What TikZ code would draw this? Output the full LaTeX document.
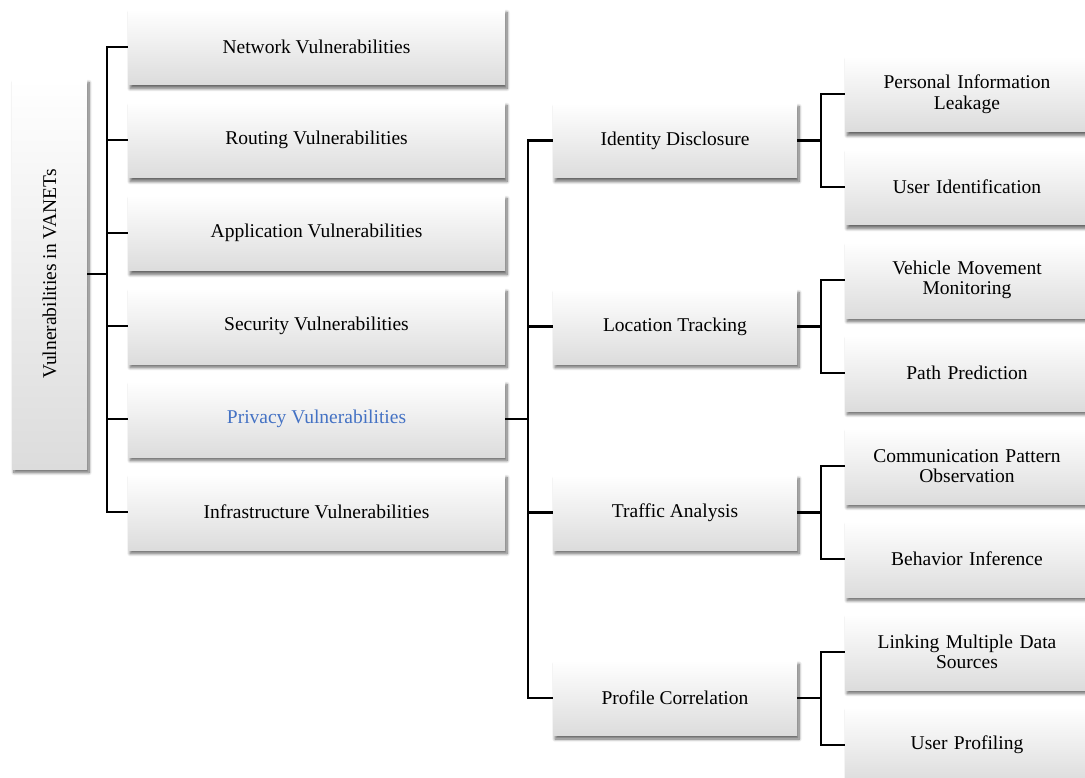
\documentclass[tikz,border=0pt]{standalone}
\usepackage{fontspec}
\setmainfont{Liberation Serif}
\usetikzlibrary{shadows.blur,calc}

\definecolor{boxgray}{RGB}{220,220,220}
\definecolor{privblue}{RGB}{68,114,196}

\tikzset{
  card/.style={
    rectangle, draw=none, align=center, inner sep=2pt,
    top color=white, middle color=white, bottom color=boxgray,
    blur shadow={shadow xshift=2pt, shadow yshift=-3.5pt, shadow blur radius=3pt,
                 shadow blur steps=8, shadow opacity=60},
    font=\fontsize{19.5}{20.5}\selectfont
  },
  lvl1/.style={card, minimum width=377pt, minimum height=76pt},
  lvl2/.style={card, minimum width=244pt, minimum height=75pt},
  lvl3/.style={card, minimum width=244pt, minimum height=76pt, text width=236pt},
  link/.style={line width=2.1pt, black}
}

\begin{document}
\begin{tikzpicture}[x=1pt, y=-1pt]
\useasboundingbox (0,0) rectangle (1085,778);

% root
\node[card, minimum width=75pt, minimum height=390pt] (root) at (49.5,274)
  {\rotatebox{90}{Vulnerabilities in VANETs}};

% first level
\node[lvl1] (net)   at (316.5,47)  {Network Vulnerabilities};
\node[lvl1] (rout)  at (316.5,140) {Routing Vulnerabilities};
\node[lvl1] (app)   at (316.5,233) {Application Vulnerabilities};
\node[lvl1] (sec)   at (316.5,326) {Security Vulnerabilities};
\node[lvl1, text=privblue] (priv) at (316.5,419) {Privacy Vulnerabilities};
\node[lvl1] (infra) at (316.5,512) {Infrastructure Vulnerabilities};

% second level
\node[lvl2] (ident) at (675,140.5) {Identity Disclosure};
\node[lvl2] (loc)   at (675,326.5) {Location Tracking};
\node[lvl2] (traf)  at (675,512.5) {Traffic Analysis};
\node[lvl2] (prof)  at (675,698)   {Profile Correlation};

% third level
\node[lvl3] (pil)  at (967,94)  {Personal Information\\Leakage};
\node[lvl3] (uid)  at (967,187) {User Identification};
\node[lvl3] (vmm)  at (967,280) {Vehicle Movement\\Monitoring};
\node[lvl3] (pp)   at (967,373) {Path Prediction};
\node[lvl3] (cpo)  at (967,466) {Communication Pattern\\Observation};
\node[lvl3] (bi)   at (967,559) {Behavior Inference};
\node[lvl3] (lmds) at (967,652) {Linking Multiple Data\\Sources};
\node[lvl3] (up)   at (967,745) {User Profiling};

% trunk positions
\coordinate (t0) at (107,0);
\coordinate (t1) at (528,0);
\coordinate (t2) at (821,0);

% root to first level
\foreach \c in {net,rout,app,sec,priv,infra}
  \draw[link] (root.east) -- (root.east -| t0) |- (\c.west);

% privacy to second level
\foreach \c in {ident,loc,traf,prof}
  \draw[link] (priv.east) -- (priv.east -| t1) |- (\c.west);

% second level to third level
\foreach \p/\a/\b in {ident/pil/uid, loc/vmm/pp, traf/cpo/bi, prof/lmds/up}{
  \draw[link] (\p.east) -- (\p.east -| t2) |- (\a.west);
  \draw[link] (\p.east -| t2) |- (\b.west);
}
\end{tikzpicture}
\end{document}
